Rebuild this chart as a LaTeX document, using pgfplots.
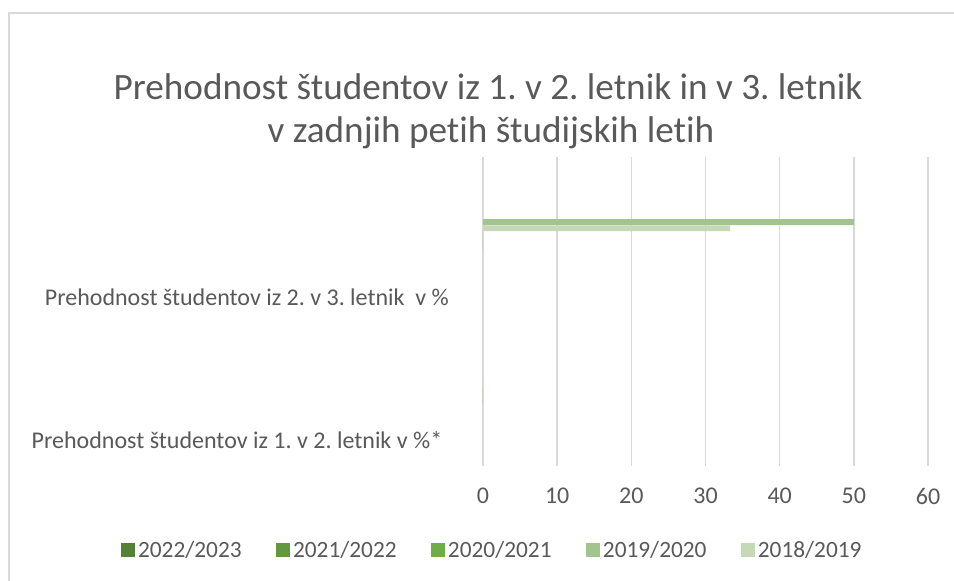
\documentclass[border=0pt]{standalone}
\usepackage{fontspec}
\setmainfont{Carlito}[Ligatures=NoCommon]
\usepackage{pgfplots}
\pgfplotsset{compat=1.18}
\frenchspacing
\definecolor{txt}{HTML}{595959}
\definecolor{gridc}{HTML}{D9D9D9}
\definecolor{cA}{HTML}{548235}
\definecolor{cB}{HTML}{63993E}
\definecolor{cC}{HTML}{70AD47}
\definecolor{cD}{HTML}{A2C590}
\definecolor{cE}{HTML}{C5D9B9}
\begin{document}
\begin{tikzpicture}
\path[use as bounding box] (0pt,0pt) rectangle (715.5pt,435.75pt);
\draw[gridc, line width=1.1pt] (6.75pt,-20pt) rectangle (740pt,426pt);
\node[txt, font=\fontsize{27.9}{33}\selectfont] at (366pt,370.5pt) {Prehodnost študentov iz 1. v 2. letnik in v 3. letnik};
\node[txt, font=\fontsize{27.9}{33}\selectfont] at (368.25pt,336pt) {v zadnjih petih študijskih letih};
\begin{axis}[
  at={(362.25pt,86.25pt)}, anchor=south west,
  scale only axis, width=333.75pt, height=231.75pt,
  xbar, xmin=0, xmax=60, ymin=-0.5, ymax=1.5,
  xtick={0,10,...,60},
  ytick={-0.332,0.594},
  yticklabels={{Prehodnost študentov iz 1. v 2. letnik v \%*\rule{5pt}{0pt}}, Prehodnost študentov iz 2. v 3. letnik\ \ v \%},
  axis line style={draw=none},
  major tick length=0pt,
  xmajorgrids, grid style={gridc, line width=1.1pt},
  tick label style={txt, font=\fontsize{18}{21}\selectfont},
  /pgf/number format/assume math mode=true,
  xticklabel style={yshift=-13pt},
  yticklabel style={xshift=-22pt},
  bar width=0.0388,
  legend style={at={(0.022,-0.272)}, anchor=center, legend columns=5, draw=none,
    font=\fontsize{17.5}{21}\selectfont, text=txt,
    /tikz/every even column/.append style={column sep=24pt}},
  legend image code/.code={\fill[#1] (0pt,-5.25pt) rectangle (10.5pt,5.25pt);},
]
\addplot[fill=cA, draw=none, bar shift=-0.0777] coordinates {(0,0) (0,1)};
\addplot[fill=cB, draw=none, bar shift=-0.0388] coordinates {(0,0) (0,1)};
\addplot[fill=cC, draw=none, bar shift=0] coordinates {(0,0) (0,1)};
\addplot[fill=cD, draw=none, bar shift=0.0777] coordinates {(0,0) (50,1)};
\addplot[fill=cE, draw=none, bar shift=0.0388] coordinates {(0,0) (33.33,1)};
\legend{2022/2023, 2021/2022, 2020/2021, 2019/2020, 2018/2019}
\end{axis}
\end{tikzpicture}
\end{document}
